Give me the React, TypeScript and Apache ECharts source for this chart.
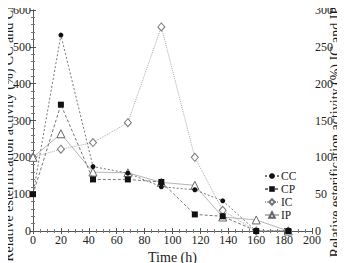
import React, { useEffect, useRef } from "react";
import * as echarts from "echarts";

// Time points (h) and relative esterification activity (%)
const ccData: [number, number][] = [
  [0, 100], [20, 532], [43, 175], [68, 157], [92, 120], [116, 112], [136, 82], [160, 0], [183, 0],
];
const cpData: [number, number][] = [
  [0, 100], [20, 343], [43, 140], [68, 140], [92, 133], [116, 45], [136, 40], [160, 0], [183, 0],
];
const icData: [number, number][] = [
  [0, 100], [20, 111], [43, 120], [68, 147], [92, 277], [116, 100], [136, 28], [160, 0], [183, 0],
];
const ipData: [number, number][] = [
  [0, 100], [20, 132], [43, 80], [68, 79], [92, 66], [116, 62], [136, 19], [160, 15], [183, 0],
];

const seriesNames = ["CC", "CP", "IC", "IP"];
const xTitle = "Time (h)";
const leftTitle = "Relative esterification activity (%) CC and CP";
const rightTitle = "Relative esterification activity (%) IC and IP";

const FONT = "Liberation Serif";

export default function App() {
  const ref = useRef<HTMLDivElement>(null);

  useEffect(() => {
    if (!ref.current) return;
    const chart = echarts.init(ref.current, null, { renderer: "svg" });

    const axisText = { color: "#222", fontFamily: FONT, fontSize: 12 };
    const axisLine = { show: true, lineStyle: { color: "#555", width: 1 } };
    const tick = { show: true, inside: true, length: 3, lineStyle: { color: "#555" } };
    // rotated titles beside the left and right value axes, reading bottom to top
    const yTitleStyle = {
      fill: "#1a1a1a",
      fontFamily: FONT,
      fontSize: 14,
      fontWeight: "normal",
      align: "center",
      verticalAlign: "middle",
    };

    chart.setOption({
      animation: false,
      backgroundColor: "#fff",
      grid: { left: 33, right: 33, top: 10, bottom: 32, outerBoundsMode: "none", containLabel: false },
      graphic: [
        { type: "text", x: 8, y: 132, rotation: Math.PI / 2, z: 100, style: { text: leftTitle, ...yTitleStyle } },
        { type: "text", x: 335, y: 132, rotation: Math.PI / 2, z: 100, style: { text: rightTitle, ...yTitleStyle } },
      ],
      legend: {
        orient: "vertical",
        left: 259,
        top: 165,
        itemWidth: 14,
        itemHeight: 7,
        itemGap: 1,
        data: seriesNames,
        textStyle: { color: "#222", fontFamily: FONT, fontSize: 11.5, lineHeight: 11, padding: [0, 0, 0, -3] },
      },
      xAxis: [
        {
          type: "value",
          min: 0,
          max: 200,
          interval: 20,
          name: xTitle,
          nameLocation: "middle",
          nameGap: 16,
          nameTextStyle: { color: "#222", fontFamily: FONT, fontSize: 14, fontWeight: "normal" },
          axisLine,
          axisTick: tick,
          minorTick: { show: true, splitNumber: 4, length: 2, lineStyle: { color: "#777" } },
          axisLabel: { ...axisText, margin: 3 },
          splitLine: { show: false },
        },
        {
          type: "value",
          position: "top",
          min: 0,
          max: 200,
          interval: 20,
          axisLine,
          axisTick: tick,
          minorTick: { show: true, splitNumber: 4, length: 2, lineStyle: { color: "#777" } },
          axisLabel: { show: false },
          splitLine: { show: false },
        },
      ],
      yAxis: [
        {
          type: "value",
          min: 0,
          max: 600,
          interval: 100,
          axisLine,
          axisTick: tick,
          minorTick: { show: true, splitNumber: 5, length: 2, lineStyle: { color: "#777" } },
          axisLabel: { ...axisText, margin: 2 },
          splitLine: { show: false },
        },
        {
          type: "value",
          position: "right",
          min: 0,
          max: 300,
          interval: 50,
          axisLine,
          axisTick: tick,
          minorTick: { show: true, splitNumber: 5, length: 2, lineStyle: { color: "#777" } },
          axisLabel: { ...axisText, margin: 3 },
          splitLine: { show: false },
        },
      ],
      series: [
        {
          name: "CC",
          type: "line",
          yAxisIndex: 0,
          data: ccData,
          symbol: "circle",
          symbolSize: 5,
          itemStyle: { color: "#111" },
          lineStyle: { color: "#777", width: 1, type: [2, 2] },
          z: 4,
        },
        {
          name: "CP",
          type: "line",
          yAxisIndex: 0,
          data: cpData,
          symbol: "rect",
          symbolSize: 6,
          itemStyle: { color: "#111" },
          lineStyle: { color: "#777", width: 1, type: [3, 2] },
          z: 3,
        },
        {
          name: "IC",
          type: "line",
          yAxisIndex: 1,
          data: icData,
          symbol: "diamond",
          symbolSize: [7, 8],
          itemStyle: { color: "#fff", borderColor: "#777", borderWidth: 1 },
          lineStyle: { color: "#aaa", width: 1, type: [1, 1] },
          z: 2,
        },
        {
          name: "IP",
          type: "line",
          yAxisIndex: 1,
          data: ipData,
          symbol: "triangle",
          symbolSize: 8,
          itemStyle: { color: "#fff", borderColor: "#666", borderWidth: 1 },
          lineStyle: { color: "#b5b5b5", width: 1 },
          z: 2,
        },
      ],
    });

    return () => chart.dispose();
  }, []);

  return <div ref={ref} style={{ width: 345, height: 263, marginLeft: -8, marginTop: -8 }} />;
}
